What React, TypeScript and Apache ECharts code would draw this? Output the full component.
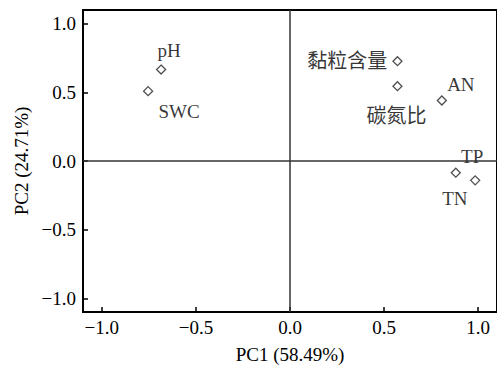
import React, { useEffect, useRef } from "react";
import * as echarts from "echarts";

const variables = ["pH", "SWC", "黏粒含量", "碳氮比", "AN", "TP", "TN"];
const pc1 = [-0.685, -0.754, 0.571, 0.571, 0.807, 0.984, 0.881];
const pc2 = [0.666, 0.509, 0.727, 0.545, 0.441, -0.141, -0.085];
const tickValues = [-1, -0.5, 0, 0.5, 1];

// label placement (style only)
const labelOffsets: Record<string, [number, number]> = {
  pH: [8, -19],
  SWC: [31, 20],
  碳氮比: [-1, 30],
  AN: [19, -16],
  TP: [-3, -24],
  TN: [-1, 26],
};

const FONT = "'Liberation Serif', 'Noto Sans CJK SC', serif";

export default function App() {
  const ref = useRef<HTMLDivElement>(null);
  useEffect(() => {
    if (!ref.current) return;
    const chart = echarts.init(ref.current, undefined, { renderer: "svg" });
    const fmt = (v: number) => v.toFixed(1).replace("-", "\u2212");
    const data = variables.map((name, i) => {
      const off = labelOffsets[name];
      const isCJK = /[^\x00-\x7f]/.test(name);
      const base = {
        show: true,
        formatter: name,
        color: "#000",
        textBorderWidth: 0,
        fontFamily: FONT,
        fontSize: isCJK ? 20 : 19,
      };
      const label = off
        ? { ...base, position: "inside", offset: off }
        : { ...base, position: "left", distance: 5 };
      return { name, value: [pc1[i], pc2[i]], label };
    });
    chart.setOption({
      animation: false,
      textStyle: { fontFamily: FONT },
      grid: {
        left: 83,
        right: -2,
        top: 10,
        bottom: 55,
        show: true,
        borderColor: "#000",
        borderWidth: 2,
      },
      xAxis: {
        type: "value",
        min: -1.1,
        max: 1.1,
        name: "PC1 (58.49%)",
        nameLocation: "middle",
        nameGap: 33,
        nameTextStyle: { fontFamily: FONT, fontSize: 19, color: "#000" },
        axisLine: { show: true, onZero: false, lineStyle: { color: "#000", width: 2 } },
        axisTick: { show: true, inside: true, length: 5, customValues: tickValues, lineStyle: { color: "#000", width: 1.5 } },
        axisLabel: { customValues: tickValues, formatter: fmt, fontFamily: FONT, fontSize: 19, color: "#000", margin: 6 },
        splitLine: { show: false },
      },
      yAxis: {
        type: "value",
        min: -1.1,
        max: 1.1,
        name: "PC2 (24.71%)",
        nameLocation: "middle",
        nameGap: 52,
        nameTextStyle: { fontFamily: FONT, fontSize: 19, color: "#000" },
        axisLine: { show: true, onZero: false, lineStyle: { color: "#000", width: 2 } },
        axisTick: { show: true, inside: true, length: 5, customValues: tickValues, lineStyle: { color: "#000", width: 1.5 } },
        axisLabel: { customValues: tickValues, formatter: fmt, fontFamily: FONT, fontSize: 19, color: "#000", margin: 7 },
        splitLine: { show: false },
      },
      series: [
        {
          type: "scatter",
          symbol: "diamond",
          symbolSize: 9,
          itemStyle: { color: "#fff", borderColor: "#222", borderWidth: 1.3 },
          data,
          markLine: {
            silent: true,
            symbol: "none",
            label: { show: false },
            lineStyle: { color: "#333", width: 1.5, type: "solid" },
            data: [{ xAxis: 0 }, { yAxis: 0 }],
          },
        },
      ],
    });
    return () => chart.dispose();
  }, []);
  return (
    <div
      ref={ref}
      style={{ position: "fixed", left: 0, top: 0, width: 497, height: 369, background: "#fff" }}
    />
  );
}
